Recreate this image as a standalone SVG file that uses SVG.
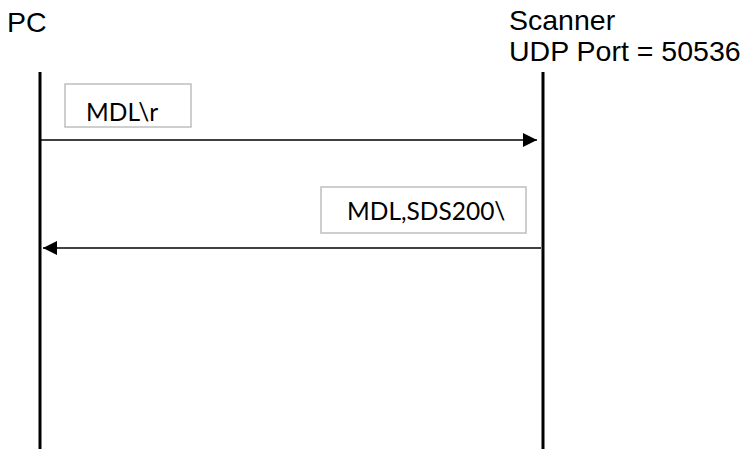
<svg xmlns="http://www.w3.org/2000/svg" width="751" height="449" viewBox="0 0 751 449">
<style>
.title{font-family:"Liberation Sans",Arial,sans-serif;font-size:28.5px;fill:#000}
.life{stroke:#000;stroke-width:3;fill:none}
.msg{stroke:#000;stroke-width:1.5;fill:none}
.box{fill:#fff;stroke:#bfbfbf;stroke-width:1.5}
.lbl{font-family:Lato,"Open Sans",sans-serif;font-size:24.5px;fill:#000}
</style>
<defs>
<marker id="ah" markerWidth="14" markerHeight="14" viewBox="0 0 14 14" refX="14" refY="7" orient="auto" markerUnits="userSpaceOnUse">
<path d="M0,0 L14,7 L0,14 Z" fill="#000"/>
</marker>
</defs>
<g id="pc">
<text class="title" x="7" y="32">PC</text>
<line class="life" x1="40" y1="72" x2="40" y2="449"/>
</g>
<g id="scanner">
<text class="title" x="509" y="30">Scanner</text>
<text class="title" x="509" y="61">UDP Port = 50536</text>
<line class="life" x1="543" y1="72" x2="543" y2="449"/>
</g>
<g id="connectors">
<line class="msg" x1="41" y1="140" x2="537" y2="140" marker-end="url(#ah)"/>
<line class="msg" x1="541" y1="248" x2="43" y2="248" marker-end="url(#ah)"/>
</g>
<g id="label-mdl">
<rect class="box" x="65" y="84" width="126" height="43"/>
<text class="lbl" x="86" y="121">MDL\r</text>
</g>
<g id="label-reply">
<rect class="box" x="321" y="187" width="205" height="46"/>
<text class="lbl" x="347" y="220">MDL,SDS200\</text>
</g>
</svg>
